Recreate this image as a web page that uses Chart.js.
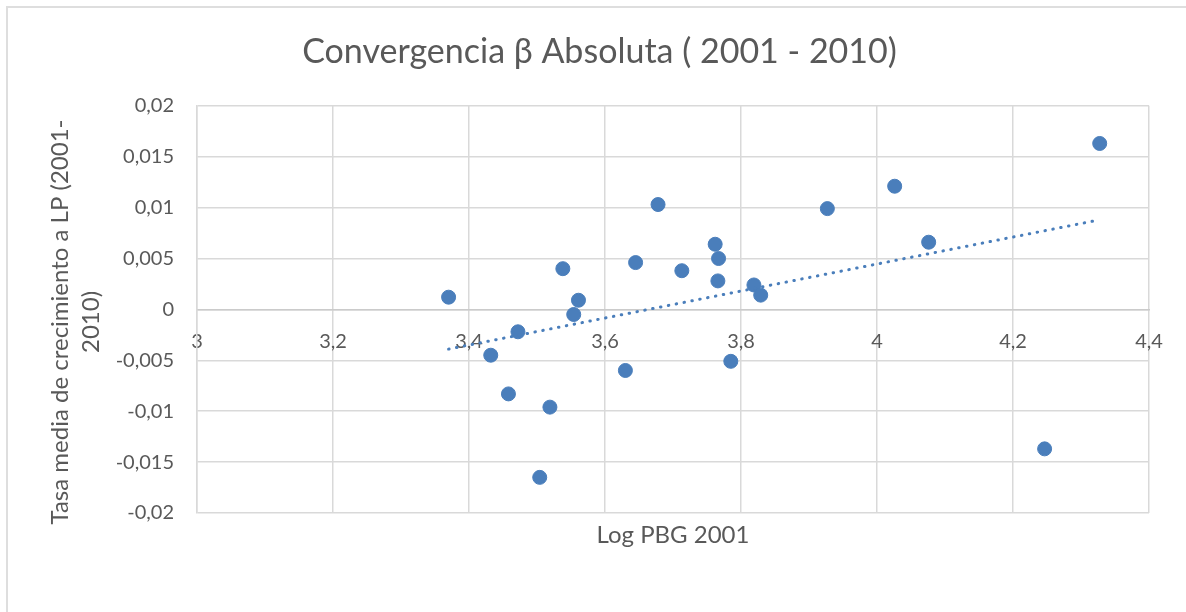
<!DOCTYPE html>
<html>
<head>
<meta charset="utf-8">
<title>Convergencia β Absoluta</title>
<script src="https://cdn.jsdelivr.net/npm/chart.js@4.4.0/dist/chart.umd.min.js"></script>
<style>
    body { margin: 0; background: #fff; }
    #wrap { position: relative; width: 1186px; height: 612px; overflow: hidden; }
    #frame { position: absolute; left: 6px; top: 6px; width: 1200px; height: 630px; border: 2px solid #dedede; box-sizing: border-box; pointer-events: none; }
</style>
</head>
<body>
<div id="wrap">
    <canvas id="betaChart" width="1186" height="612"></canvas>
    <div id="frame"></div>
</div>
<script>
// Log PBG 2001 vs tasa media de crecimiento
const logPbg = [4.3275, 4.026, 3.678, 3.927, 4.076, 3.762, 3.645, 3.767, 3.713, 3.766, 3.819, 3.829,
    3.538, 3.370, 3.561, 3.554, 3.472, 3.432, 3.458, 3.519, 3.504, 3.630, 3.785, 4.2465];
const tasaMedia = [0.0163, 0.0121, 0.0103, 0.0099, 0.0066, 0.0064, 0.0046, 0.0050, 0.0038, 0.0028, 0.0024, 0.0014,
    0.0040, 0.0012, 0.0009, -0.0005, -0.0022, -0.0045, -0.0083, -0.0096, -0.0165, -0.0060, -0.0051, -0.0137];

// linear trendline ends
const trendX = [3.37, 4.3275];
const trendY = [-0.0039, 0.0088];

const xTickValues = [3, 3.2, 3.4, 3.6, 3.8, 4, 4.2, 4.4];
const xTickLabels = ['3', '3,2', '3,4', '3,6', '3,8', '4', '4,2', '4,4'];
const yTickValues = [-0.02, -0.015, -0.01, -0.005, 0, 0.005, 0.01, 0.015, 0.02];
const yTickLabels = ['-0,02', '-0,015', '-0,01', '-0,005', '0', '0,005', '0,01', '0,015', '0,02'];

const chartTitle = 'Convergencia β Absoluta ( 2001 - 2010)';
const xTitle = 'Log PBG 2001';
const yTitle = ['Tasa media de crecimiento a LP (2001-', '2010)'];

const textColor = '#595959';
const gridColor = '#d9d9d9';
const blue = '#4A7EBB';
const fontFamily = 'Lato, "Open Sans", sans-serif';

// y axis title is drawn by hand so it can wrap over two lines like Excel does
const yTitlePlugin = {
    id: 'yTitle',
    afterDraw(chart) {
        const ctx = chart.ctx;
        const baselines = [68, 99];
        ctx.save();
        ctx.fillStyle = textColor;
        ctx.font = '24px ' + fontFamily;
        ctx.textAlign = 'center';
        ctx.textBaseline = 'alphabetic';
        yTitle.forEach((line, i) => {
            ctx.save();
            ctx.translate(baselines[i], 322);
            ctx.rotate(-Math.PI / 2);
            ctx.fillText(line, 0, 0);
            ctx.restore();
        });
        ctx.restore();
    }
};

const points = logPbg.map((x, i) => ({ x: x, y: tasaMedia[i] }));
const trend = trendX.map((x, i) => ({ x: x, y: trendY[i] }));

const ctx = document.getElementById('betaChart').getContext('2d');
new Chart(ctx, {
    type: 'scatter',
    data: {
        datasets: [{
            label: 'Tendencia',
            data: trend,
            showLine: true,
            borderColor: blue,
            borderWidth: 3,
            borderDash: [0.5, 7.5],
            borderCapStyle: 'round',
            pointRadius: 0,
            pointHoverRadius: 0,
            order: 0
        }, {
            label: 'Tasa media',
            data: points,
            backgroundColor: blue,
            borderColor: blue,
            borderWidth: 1,
            pointRadius: 7,
            order: 1
        }]
    },
    options: {
        responsive: false,
        animation: false,
        layout: {
            padding: { left: 50, right: 37, top: 0, bottom: 0 }
        },
        plugins: {
            legend: { display: false },
            tooltip: { enabled: false },
            title: {
                display: true,
                text: chartTitle,
                color: textColor,
                font: { family: fontFamily, size: 34, weight: 'normal' },
                padding: { top: 32, bottom: 33 }
            }
        },
        scales: {
            x: {
                type: 'linear',
                position: 'bottom',
                min: 3,
                max: 4.4,
                afterBuildTicks: scale => { scale.ticks = xTickValues.map(v => ({ value: v })); },
                afterFit: scale => { scale.height = 99; },
                ticks: { display: false },
                grid: { color: gridColor, lineWidth: 1.5, drawTicks: false },
                border: { display: false },
                title: {
                    display: true,
                    text: xTitle,
                    color: textColor,
                    font: { family: fontFamily, size: 24 },
                    padding: { top: 0, bottom: 62 }
                }
            },
            x2: {
                type: 'linear',
                axis: 'x',
                position: { y: 0 },
                min: 3,
                max: 4.4,
                afterBuildTicks: scale => { scale.ticks = xTickValues.map(v => ({ value: v })); },
                ticks: {
                    color: textColor,
                    font: { family: fontFamily, size: 20 },
                    padding: 20,
                    maxRotation: 0,
                    callback: (value, index) => xTickLabels[index]
                },
                grid: { display: false, drawTicks: false },
                border: { display: true, color: '#cbcbcb', width: 1.5 }
            },
            y: {
                type: 'linear',
                min: -0.02,
                max: 0.02,
                afterBuildTicks: scale => { scale.ticks = yTickValues.map(v => ({ value: v })); },
                afterFit: scale => { scale.width = 147; },
                ticks: {
                    color: textColor,
                    font: { family: fontFamily, size: 20 },
                    padding: 23,
                    callback: (value, index) => yTickLabels[index]
                },
                grid: { color: gridColor, lineWidth: 1.5, drawTicks: false },
                border: { color: gridColor, width: 1.5 }
            }
        }
    },
    plugins: [yTitlePlugin]
});
</script>
</body>
</html>
